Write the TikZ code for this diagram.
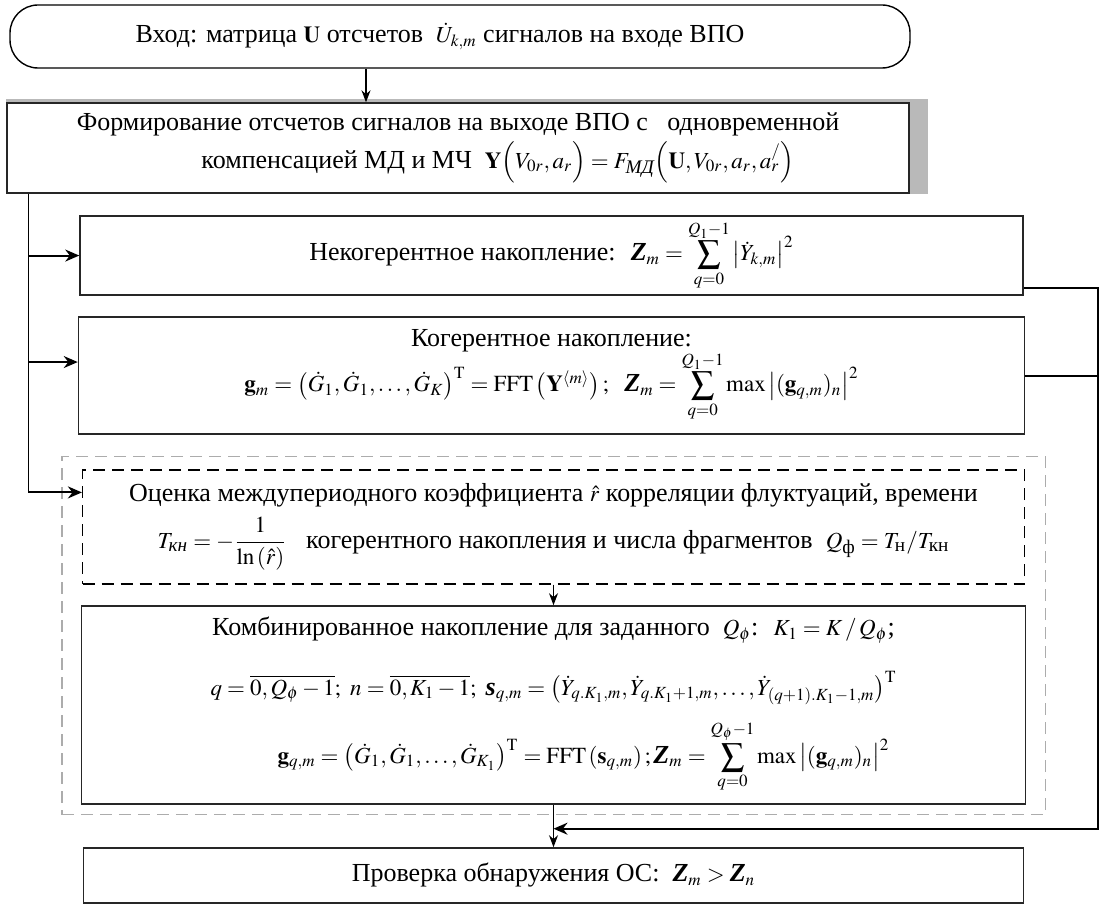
\documentclass[tikz,border=0pt]{standalone}
\usepackage{amsmath}
\usepackage{mathptmx}
\usepackage{fontspec}
\setmainfont{Liberation Serif}[Scale=1.13]
\usetikzlibrary{arrows.meta,positioning,calc,fit,backgrounds}

\newcommand{\bZ}{\mbox{\bfseries\itshape Z}}
\newcommand{\bS}{\mbox{\bfseries\itshape s}}

\begin{document}
\begin{tikzpicture}[
    node distance = 11pt and 20pt,
    % ── Node styles ──
    base/.style  = {font=\fontsize{11.5pt}{14pt}\selectfont, align=center, inner sep=2pt},
    term/.style  = {base, rectangle, rounded corners=14pt, draw, line width=0.7pt,
                    minimum width=450pt, minimum height=31.5pt},
    proc/.style  = {base, rectangle, draw=black!85, line width=0.75pt, fill=white},
    est/.style   = {base, rectangle, draw, dash pattern=on 6pt off 3.5pt, line width=0.6pt},
    outer/.style = {rectangle, draw=gray!65, dash pattern=on 6pt off 3.5pt, line width=0.75pt},
    arr/.style   = {-{Stealth[length=6pt,width=4.5pt]}, line width=0.6pt},
    arrb/.style  = {-{Stealth[length=7pt,width=6pt]}, line width=1pt},
    rail/.style  = {line width=0.7pt},
    fb/.style    = {line width=1pt},
]
\useasboundingbox (0,0) rectangle (550.5pt,-452pt);

% =====================================================================
%  INPUT  →  FORMATION OF OUTPUT SAMPLES
% =====================================================================
\node[term] (inp) at (230pt,-18.25pt)
    {Вход: матрица $\mathbf{U}$ отсчетов \ $\dot{U}_{k,m}$ сигналов на входе ВПО\hspace*{20pt}};

\node[proc, below=16.8pt of inp, xshift=-1pt,
      minimum width=451pt, minimum height=45pt] (form)
    {Формирование отсчетов сигналов на выходе ВПО с \ \ одновременной\\[2pt]
     \hspace*{40pt}компенсацией МД и МЧ \ $\mathbf{Y}\Bigl(V_{0r},a_r\Bigr)=
     F_{\text{\itshape МД}}\Bigl(\mathbf{U},V_{0r},a_r,a_r^{/}\Bigr)$};

% ── grey shadow behind the formation box
\begin{scope}[on background layer]
  \fill[gray!55] ([yshift=1.5pt]form.north west) rectangle ([xshift=9pt]form.south east);
\end{scope}

\draw[arr] ([xshift=-47pt]inp.south) -- ([xshift=-47pt]inp.south |- form.north);

% =====================================================================
%  ACCUMULATION VARIANTS
% =====================================================================
\node[proc, below=10.75pt of form.south west, anchor=north west, xshift=36.5pt,
      minimum width=471.5pt, minimum height=39.5pt] (nek)
    {Некогерентное накопление: \ $\bZ_m=\displaystyle\sum_{q=0}^{Q_1-1}\left|\dot{Y}_{k,m}\right|^2$};

\node[proc, below=10.25pt of nek, minimum width=473pt, minimum height=58.5pt] (kog)
    {Когерентное накопление:\\[-1pt]
     $\mathbf{g}_m=\left(\dot{G}_1,\dot{G}_1,\dots,\dot{G}_K\right)^{\mathrm{T}}=
     \mathrm{FFT}\left(\mathbf{Y}^{\langle m\rangle}\right);\ \
     \bZ_m=\displaystyle\sum_{q=0}^{Q_1-1}\max\left|(\mathbf{g}_{q,m})_n\right|^2$};

% ── estimation of the correlation coefficient
\node[est, below=17.3pt of kog, xshift=1pt, minimum width=471pt, minimum height=57pt] (corr)
    {Оценка междупериодного коэффициента $\hat{r}$ корреляции флуктуаций, времени\\[4pt]
     $T_{\text{\itshape кн}}=-\dfrac{1}{\ln\left(\hat{r}\right)}$\ \ \ когерентного накопления
     и числа фрагментов \ $Q_{\text{ф}}=T_{\text{н}}/T_{\text{кн}}$};

\node[proc, below=10.3pt of corr, minimum width=472pt, minimum height=99pt] (comb)
    {Комбинированное накопление для заданного \ $Q_\phi$: \ $K_1=K\,/\,Q_\phi$;\\[13pt]
     $q=\overline{0,Q_\phi-1};\ n=\overline{0,K_1-1};\ \bS_{q,m}=
     \left(\dot{Y}_{q.K_1,m},\dot{Y}_{q.K_1+1,m},\dots,\dot{Y}_{(q+1).K_1-1,m}\right)^{\mathrm{T}}$\\[7pt]
     \hspace*{30pt}$\mathbf{g}_{q,m}=\left(\dot{G}_1,\dot{G}_1,\dots,\dot{G}_{K_1}\right)^{\mathrm{T}}=
     \mathrm{FFT}\left(\mathbf{s}_{q,m}\right);\bZ_m=
     \displaystyle\sum_{q=0}^{Q_\phi-1}\max\left|(\mathbf{g}_{q,m})_n\right|^2$};

\node[outer, fit=(corr)(comb), inner xsep=9.5pt, inner ysep=5.75pt, yshift=0.75pt] (grp) {};

\draw[arr] (corr.south) -- (comb.north);

% =====================================================================
%  DETECTION CHECK
% =====================================================================
\node[proc, below=21.25pt of comb, minimum width=470pt, minimum height=27.5pt] (chk)
    {Проверка обнаружения ОС: \ $\bZ_m>\bZ_n$};

\draw[arr] (comb.south) -- (chk.north);

% =====================================================================
%  LEFT RAIL: formation box feeds every accumulation branch
% =====================================================================
\coordinate (lrail)   at ([xshift=11pt]form.south west);
\coordinate (kog-in)  at ([yshift=6.75pt]kog.west);
\coordinate (corr-in) at ([yshift=-11.5pt]corr.north west);

\draw[rail] (lrail) -- (lrail |- corr-in);
\draw[arrb] (lrail |- corr-in) -- (corr-in);
\draw[arrb] (lrail |- nek.west) -- (nek.west);
\draw[arrb] (lrail |- kog-in)   -- (kog-in);

% =====================================================================
%  RIGHT RAIL: results go back to the detection check
% =====================================================================
\coordinate (rrail)  at ([xshift=37pt]nek.east);
\coordinate (nek-out) at ([yshift=4pt]nek.south east);
\coordinate (join)   at ([yshift=-12pt]comb.south);

\draw[fb] (kog.east) -- (kog.east -| rrail);
\draw[fb, -{Stealth[length=7pt,width=6pt]}]
    (nek-out) -- (nek-out -| rrail) |- (join);

\end{tikzpicture}
\end{document}
